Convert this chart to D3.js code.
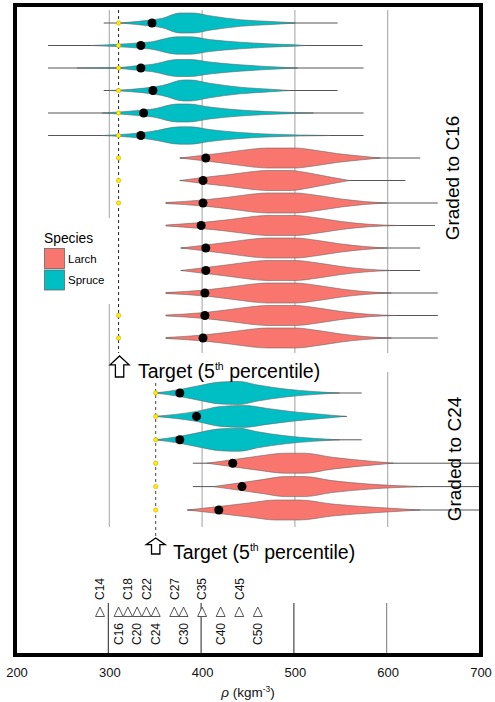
<!DOCTYPE html>
<html><head><meta charset="utf-8">
<script src="https://cdn.jsdelivr.net/npm/d3@7/dist/d3.min.js"></script>
<style>body{margin:0;background:#fff}svg{display:block;font-family:"Liberation Sans",Arial,sans-serif}</style>
</head><body><svg id="c" width="495" height="702"></svg>
<script>
// ---------------- data ----------------
const xTicks = [200, 300, 400, 500, 600, 700];
const gridValues = [300, 400, 500, 600];
const targetC16 = 310, targetC24 = 350;
const speciesNames = ["Larch", "Spruce"];
const speciesColors = ["#F8766D", "#00BFC4"];

// upper block (graded to C16)
const upperSpecies = ["Spruce","Spruce","Spruce","Spruce","Spruce","Spruce","Larch","Larch","Larch","Larch","Larch","Larch","Larch","Larch","Larch"];
const upperMin = [294, 234, 234, 294, 234, 234, 376, 376, 361, 361, 377, 377, 361, 361, 361];
const upperMax = [546, 573, 574, 546, 574, 574, 635, 619, 654, 651, 635, 635, 654, 654, 654];
const upperP5  = [346, 334, 334, 347, 337, 334, 404, 401, 401, 399, 404, 404, 403, 403, 401];
const upperMark = [1,1,1,1,1,1,1,1,1,0,0,0,0,1,1];
const upperProfX = [
  [311,347,356,376,390,408,441,470,500],
  [281,334,344,373,387,408,441,470,505,511],
  [265,310,334,345,373,387,408,441,470,503],
  [300,347,357,380,387,408,441,470,495],
  [292,337,347,373,385,408,441,470,500,520],
  [292,334,345,376,387,408,441,470,505,538],
  [376,404,430,455,470,500,520,545,570,592],
  [376,401,430,455,470,495,515,535,559],
  [361,401,430,455,470,500,525,550,575,599],
  [361,399,430,455,470,500,525,550,580,613],
  [377,404,430,455,470,500,525,550,575,599],
  [377,404,430,455,470,500,525,550,575,604],
  [361,403,430,455,470,500,525,550,575,604],
  [361,403,430,455,470,500,525,550,580,608],
  [361,401,430,455,470,500,525,550,575,604]
];
const upperProfD = [
  [0,0.33,0.45,1.0,1.0,0.73,0.33,0.17,0.02],
  [0,0.27,0.35,0.87,0.87,0.6,0.33,0.17,0.04,0],
  [0,0.05,0.27,0.35,0.85,0.85,0.6,0.32,0.15,0],
  [0,0.35,0.5,1.05,1.05,0.73,0.33,0.15,0],
  [0,0.3,0.4,0.9,0.9,0.6,0.3,0.15,0.05,0],
  [0,0.27,0.4,0.87,0.87,0.6,0.3,0.15,0.05,0],
  [0,0.3,0.6,0.9,1.0,1.0,0.8,0.45,0.2,0],
  [0,0.3,0.6,0.9,1.0,1.0,0.75,0.4,0],
  [0.05,0.3,0.6,0.9,1.0,1.0,0.75,0.4,0.15,0],
  [0.05,0.3,0.6,0.9,1.0,1.0,0.75,0.4,0.12,0],
  [0,0.3,0.6,0.9,1.0,1.0,0.75,0.4,0.15,0],
  [0,0.3,0.6,0.9,1.0,1.0,0.75,0.4,0.15,0],
  [0.05,0.3,0.6,0.9,1.0,1.0,0.75,0.4,0.15,0],
  [0.05,0.3,0.6,0.9,1.0,1.0,0.75,0.4,0.12,0],
  [0.05,0.3,0.6,0.9,1.0,1.0,0.75,0.4,0.15,0]
];

// lower block (graded to C24)
const lowerSpecies = ["Spruce","Spruce","Spruce","Larch","Larch","Larch"];
const lowerMin = [349, 349, 349, 390, 390, 384];
const lowerMax = [572, 556, 572, 700, 700, 700];
const lowerP5  = [376, 394, 376, 433, 443, 418];
const lowerMark = [1,1,1,1,1,1];
const lowerProfX = [
  [349,376,395,420,440,460,490,520,548],
  [349,394,420,445,470,500,530,554],
  [349,376,395,420,440,460,490,520,548],
  [405,433,460,490,510,540,570,606],
  [412,443,465,490,510,540,580,638],
  [384,418,450,480,505,540,590,635]
];
const lowerProfD = [
  [0,0.35,0.7,1.1,1.15,0.8,0.4,0.15,0],
  [0,0.5,1.0,1.1,0.8,0.45,0.2,0],
  [0,0.35,0.7,1.1,1.15,0.8,0.4,0.15,0],
  [0,0.35,0.7,1.0,1.0,0.6,0.3,0],
  [0,0.4,0.7,1.0,1.0,0.6,0.25,0],
  [0,0.35,0.7,1.0,1.0,0.6,0.25,0]
];

// strength classes (characteristic density)
const classNames = ["C14","C16","C18","C20","C22","C24","C27","C30","C35","C40","C45","C50"];
const classDensity = [290,310,320,330,340,350,370,380,400,420,440,460];

// ---------------- drawing ----------------
const svg = d3.select("#c");
const x = d3.scaleLinear().domain([200, 700]).range([16.5, 480.5]);
const yUp = d3.scaleLinear().domain([0, 14]).range([23, 338]);
const yLo = d3.scaleLinear().domain([0, 5]).range([393, 510]);
const halfW = d3.scaleLinear().domain([0, 1]).range([0, 10]);
const color = d3.scaleOrdinal().domain(speciesNames).range(speciesColors);

const plot = svg.append("g");
svg.append("defs").append("clipPath").attr("id","fr").append("rect")
  .attr("x",17).attr("y",7).attr("width",462).attr("height",646);
plot.attr("clip-path","url(#fr)");

// gridlines
gridValues.forEach(v => {
  const segs = v === 300 ? [[10, 527]] : [[10, 353], [372, 527]];
  segs.forEach(s => plot.append("line")
    .attr("x1", x(v)).attr("x2", x(v)).attr("y1", s[0]).attr("y2", s[1])
    .attr("stroke", "#aaa").attr("stroke-width", 1.1));
});

// white box behind upper target label
plot.append("rect").attr("x", 131).attr("y", 353).attr("width", 210).attr("height", 39).attr("fill", "#fff");

// dashed target lines
plot.append("line").attr("x1", x(targetC16)).attr("x2", x(targetC16)).attr("y1", 10).attr("y2", 353)
  .attr("stroke", "#222").attr("stroke-width", 1).attr("stroke-dasharray", "3,3");
plot.append("line").attr("x1", x(targetC24)).attr("x2", x(targetC24)).attr("y1", 383).attr("y2", 536)
  .attr("stroke", "#444").attr("stroke-width", 1).attr("stroke-dasharray", "3,3");

function drawBlock(species, mins, maxs, p5, marks, px, pd, yScale, target) {
  species.forEach((sp, i) => {
    const yc = yScale(i);
    plot.append("line").attr("x1", x(mins[i])).attr("x2", x(maxs[i])).attr("y1", yc).attr("y2", yc)
      .attr("stroke", "#555").attr("stroke-width", 1);
    const pts = px[i].map((v, k) => [v, pd[i][k]]);
    const area = d3.area().x(d => x(d[0])).y0(d => yc - halfW(d[1])).y1(d => yc + halfW(d[1]))
      .curve(d3.curveMonotoneX);
    plot.append("path").attr("d", area(pts)).attr("fill", color(sp))
      .attr("stroke", "#666").attr("stroke-width", 0.6);
    if (marks[i]) plot.append("circle").attr("cx", x(target)).attr("cy", yc).attr("r", 2.2)
      .attr("fill", "#ffee00").attr("stroke", "#bba000").attr("stroke-width", 0.5);
    plot.append("circle").attr("cx", x(p5[i])).attr("cy", yc).attr("r", 4.5).attr("fill", "#000");
  });
}
drawBlock(upperSpecies, upperMin, upperMax, upperP5, upperMark, upperProfX, upperProfD, yUp, targetC16);
drawBlock(lowerSpecies, lowerMin, lowerMax, lowerP5, lowerMark, lowerProfX, lowerProfD, yLo, targetC24);

// hollow arrows + target labels
function arrow(cx, top, h, w) {
  const hw = w / 2, sw = w * 0.22, hh = h * 0.42;
  const p = [[cx, top], [cx + hw, top + hh], [cx + sw, top + hh], [cx + sw, top + h], [cx - sw, top + h], [cx - sw, top + hh], [cx - hw, top + hh]];
  plot.append("path").attr("d", "M" + p.map(q => q.join(",")).join("L") + "Z")
    .attr("fill", "#fff").attr("stroke", "#000").attr("stroke-width", 1.3);
}
function targetLabel(tx, baseline) {
  const t = plot.append("text").attr("x", tx).attr("y", baseline).attr("font-size", 19.5).attr("fill", "#000");
  t.append("tspan").text("Target (5");
  t.append("tspan").text("th").attr("font-size", 10.5).attr("dy", -8.5);
  t.append("tspan").text(" percentile)").attr("dy", 8.5);
}
arrow(x(targetC16) + 1, 356, 21, 19);
targetLabel(138, 378);
arrow(x(targetC24), 538, 16, 19);
targetLabel(173, 559);

// side labels
plot.append("text").attr("transform", "translate(459,178) rotate(-90)").attr("text-anchor", "middle")
  .attr("font-size", 19).text("Graded to C16");
plot.append("text").attr("transform", "translate(461,459) rotate(-90)").attr("text-anchor", "middle")
  .attr("font-size", 19).text("Graded to C24");

// legend
const lg = plot.append("g");
lg.append("rect").attr("x", 38).attr("y", 218).attr("width", 75).attr("height", 86).attr("fill", "#fff");
lg.append("text").attr("x", 44).attr("y", 243).attr("font-size", 13.8).text("Species");
speciesNames.forEach((s, i) => {
  lg.append("rect").attr("x", 44.5).attr("y", 248.5 + i * 21.5).attr("width", 20).attr("height", 20)
    .attr("fill", color(s)).attr("stroke", "#666").attr("stroke-width", 0.8);
  lg.append("text").attr("x", 68).attr("y", 262.5 + i * 21.5).attr("font-size", 11.5).text(s);
});

// strength class strip
gridValues.forEach(v => plot.append("line").attr("x1", x(v) - 1).attr("x2", x(v) - 1).attr("y1", 603).attr("y2", 656)
  .attr("stroke", v === 600 ? "#777" : "#222").attr("stroke-width", 1));
classNames.forEach((c, i) => {
  const cx = x(classDensity[i]);
  plot.append("path").attr("d", `M${cx},607L${cx + 4.5},616.5L${cx - 4.5},616.5Z`)
    .attr("fill", "#fff").attr("stroke", "#444").attr("stroke-width", 0.9);
  const above = i % 2 === 0;
  plot.append("text").attr("transform", `translate(${cx + 4.3},${above ? 600 : 645}) rotate(-90)`)
    .attr("font-size", 12).attr("fill", "#111").text(c);
});

// frame
svg.append("rect").attr("x", 15).attr("y", 5).attr("width", 466).attr("height", 650)
  .attr("fill", "none").attr("stroke", "#000").attr("stroke-width", 4);

// x axis
const ax = svg.append("g").attr("transform", "translate(0,665)")
  .call(d3.axisBottom(x).tickValues(xTicks).tickSize(0).tickPadding(3).tickFormat(d3.format("d")));
ax.select(".domain").remove();
ax.selectAll("text").attr("font-size", 13).attr("font-family", "Liberation Sans, Arial, sans-serif").attr("fill", "#111");

const tt = svg.append("text").attr("x", 248).attr("y", 697).attr("text-anchor", "middle").attr("font-size", 13.5).attr("fill", "#111");
tt.append("tspan").text("ρ").attr("font-style", "italic");
tt.append("tspan").text(" (kgm");
tt.append("tspan").text("-3").attr("font-size", 8.5).attr("dy", -5);
tt.append("tspan").text(")").attr("dy", 5);
</script></body></html>
